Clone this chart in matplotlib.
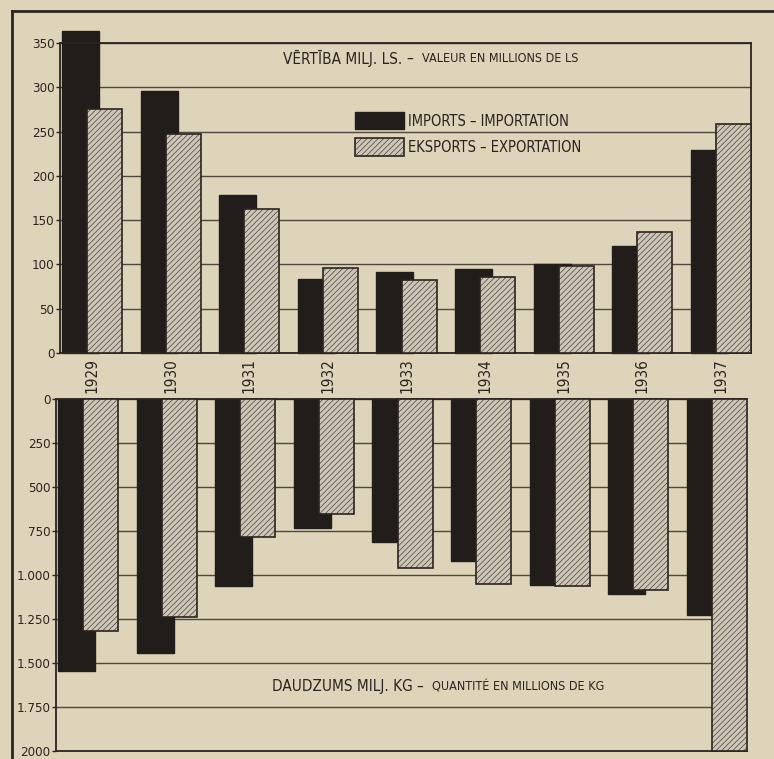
import matplotlib
matplotlib.use('Agg')
import matplotlib.pyplot as plt
from matplotlib import font_manager
from matplotlib.lines import Line2D

# data
years = ['1929', '1930', '1931', '1932', '1933', '1934', '1935', '1936', '1937']
value_imports = [363, 296, 178, 84, 92, 95, 101, 121, 229]   # milj. Ls
value_exports = [275, 247, 163, 96, 82, 86, 98, 137, 258]
qty_imports = [1546, 1445, 1061, 734, 813, 920, 1055, 1106, 1230]  # milj. kg
qty_exports = [1320, 1241, 784, 655, 959, 1050, 1061, 1083, 2000]
value_ticks = [0, 50, 100, 150, 200, 250, 300, 350]
qty_ticks = [0, 250, 500, 750, 1000, 1250, 1500, 1750, 2000]
qty_tick_labels = ['0', '250', '500', '750', '1.000', '1.250', '1.500', '1.750', '2000']

# look for a narrow / condensed face, the original lettering is very narrow
fp = None
for pref in ['Liberation Sans Narrow', 'DejaVu Sans', 'Noto Sans', 'Open Sans']:
    for f in font_manager.fontManager.ttflist:
        fn = f.fname.lower()
        narrow = ('condensed' in fn or 'narrow' in fn or 'condensed' in str(f.stretch))
        if f.name == pref and narrow and f.style == 'normal' and f.weight in (400, 'normal', 'regular') \
                and 'semi' not in fn and 'extra' not in fn and 'light' not in fn:
            fp = f.fname
            break
    if fp:
        break

def font(size):
    if fp:
        return font_manager.FontProperties(fname=fp, size=size)
    return font_manager.FontProperties(family='DejaVu Sans', size=size * 0.85)

paper = '#ded4ba'
ink = '#2a2420'
black_bar = '#211d1a'
grey_bar = '#cdc6b6'
plt.rcParams['hatch.linewidth'] = 0.4
plt.rcParams['hatch.color'] = '#4a423a'

W, H = 774, 759
fig = plt.figure(figsize=(W / 100, H / 100), dpi=100, facecolor=paper)

def px(x0, y0, x1, y1):
    # pixel box -> figure fraction rect
    return [x0 / W, 1 - y1 / H, (x1 - x0) / W, (y1 - y0) / H]

ax_top = fig.add_axes(px(60, 43, 751, 353))
ax_bot = fig.add_axes(px(56, 399, 747, 751))

x = list(range(len(years)))
xe = [i + 0.32 for i in x]
wi, we = 0.47, 0.445

for ax in (ax_top, ax_bot):
    ax.set_facecolor(paper)
    ax.set_xlim(-0.025, 8.766)
    ax.set_xticks([])
    for s in ax.spines.values():
        s.set_color(ink)
        s.set_linewidth(1.3)
    ax.tick_params(axis='y', length=3, width=1, color=ink, labelcolor=ink, pad=1)
    ax.yaxis.grid(True, color='#4f463e', linewidth=1.0)
    ax.set_axisbelow(True)

# top panel: value
ax_top.bar(x, value_imports, width=wi, align='edge', color=black_bar,
           edgecolor=black_bar, zorder=2, clip_on=False)
ax_top.bar(xe, value_exports, width=we, align='edge', color=grey_bar,
           edgecolor=ink, linewidth=1.2, hatch='//////', zorder=3, clip_on=False)
ax_top.set_ylim(0, 350)
ax_top.set_yticks(value_ticks)
ax_top.set_yticklabels([str(v) for v in value_ticks], fontproperties=font(9.5))

# bottom panel: quantity, drawn downward
ax_bot.bar(x, qty_imports, width=wi, align='edge', color=black_bar,
           edgecolor=black_bar, zorder=2, clip_on=False)
ax_bot.bar(xe, qty_exports, width=we, align='edge', color=grey_bar,
           edgecolor=ink, linewidth=1.2, hatch='//////', zorder=3, clip_on=False)
ax_bot.set_ylim(2000, 0)
ax_bot.set_yticks(qty_ticks)
ax_bot.set_yticklabels(qty_tick_labels, fontproperties=font(9.5))
ax_bot.spines['right'].set_visible(False)

# year labels between the panels
for i, yr in enumerate(years):
    ax_top.annotate(yr, xy=(i + (0.32 + we) / 2, 0), xycoords=('data', 'axes fraction'),
                    xytext=(0, -5), textcoords='offset pixels', rotation=90,
                    ha='center', va='top', fontproperties=font(11), color=ink)

# titles
fig.text(283 / W, 1 - 58 / H, 'VĒRTĪBA MILJ. LS.', fontproperties=font(11), color=ink,
         ha='left', va='center')
fig.text(406 / W, 1 - 58 / H, '–', fontproperties=font(11), color=ink,
         ha='left', va='center')
fig.text(422 / W, 1 - 59 / H, 'VALEUR EN MILLIONS DE LS', fontproperties=font(9), color=ink,
         ha='left', va='center')
fig.text(272 / W, 1 - 686 / H, 'DAUDZUMS MILJ. KG', fontproperties=font(11), color=ink,
         ha='left', va='center')
fig.text(416 / W, 1 - 686 / H, '–', fontproperties=font(11), color=ink,
         ha='left', va='center')
fig.text(432 / W, 1 - 687 / H, 'QUANTITÉ EN MILLIONS DE KG', fontproperties=font(9), color=ink,
         ha='left', va='center')

# legend boxes
lax = fig.add_axes([0, 0, 1, 1], facecolor='none')
lax.set_xlim(0, W)
lax.set_ylim(H, 0)
lax.axis('off')
lax.add_patch(plt.Rectangle((355, 112), 49, 17, facecolor=black_bar, edgecolor=black_bar))
lax.add_patch(plt.Rectangle((355, 138), 49, 18, facecolor=grey_bar, edgecolor=ink,
                            linewidth=1.2, hatch='//////'))
lax.text(408, 121, 'IMPORTS – IMPORTATION', fontproperties=font(10.5), color=ink, va='center')
lax.text(408, 147, 'EKSPORTS – EXPORTATION', fontproperties=font(10.5), color=ink, va='center')

# outer frame (top and left edge)
lax.add_line(Line2D([12, W], [11, 11], color=ink, linewidth=2))
lax.add_line(Line2D([12, 12], [11, H], color=ink, linewidth=2))

fig.savefig('out.png', dpi=100, facecolor=paper)
